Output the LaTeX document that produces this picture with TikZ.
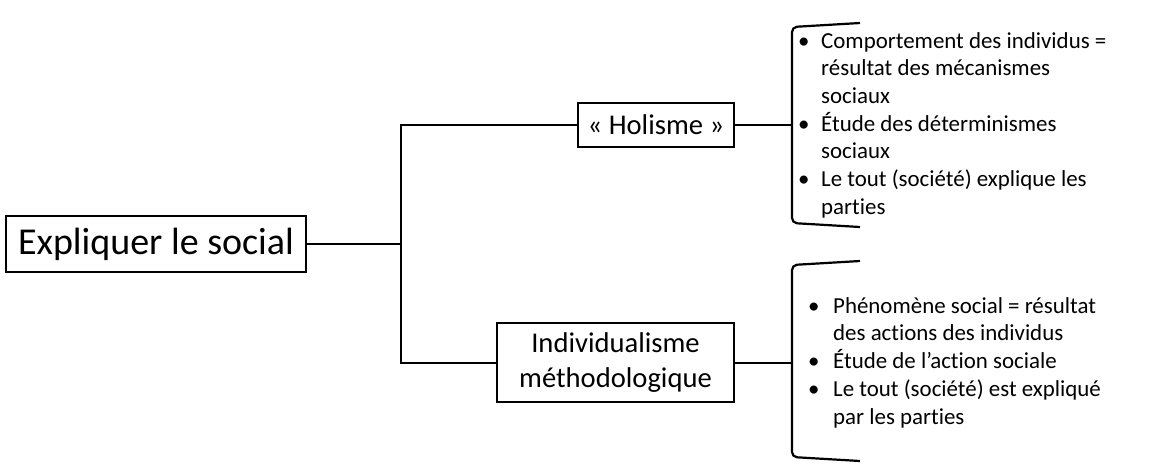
\documentclass[tikz,border=0pt]{standalone}
\usepackage{fontspec}
\setmainfont[Ligatures=NoCommon]{Carlito}
\newcommand{\itm}[1]{\makebox[23pt][l]{•}#1}
\newcommand{\cnt}[1]{\hspace*{23pt}#1}
\newcommand{\itmb}[1]{\makebox[25pt][l]{•}#1}
\newcommand{\cntb}[1]{\hspace*{25pt}#1}
\tikzset{
  box/.style={draw, line width=2pt, inner sep=0pt, align=center},
  ln/.style={line width=2pt},
  brk/.style={line width=2.2pt, rounded corners=5pt},
  lst/.style={anchor=west, inner sep=0pt, align=left, font=\fontsize{22.9}{27.7}\selectfont}
}
\begin{document}
\begin{tikzpicture}[x=1pt,y=-1pt]
\useasboundingbox (0,0) rectangle (1153,475);
\node[box, minimum width=300pt, minimum height=56pt, font=\fontsize{38}{46}\selectfont] (main) at (156,244) {Expliquer le social};
\node[box, minimum width=156pt, minimum height=44pt, font=\fontsize{28.6}{34}\selectfont] (hol) at (656,125) {« Holisme »};
\node[box, minimum width=237pt, minimum height=79pt, font=\fontsize{28.6}{34.3}\selectfont] (ind) at (615.5,362.5) {Individualisme\\méthodologique};
\coordinate (j) at (401,244);
\coordinate (jt) at (401,125);
\coordinate (jb) at (401,362.5);
\draw[ln] (main.east) -- (j);
\draw[ln] (hol.west) -- (jt) -- (jb) -- (ind.west);
% brackets
\coordinate (b1) at (792,125);
\coordinate (b2) at (792,362.5);
\draw[ln] (hol.east) -- (b1);
\draw[ln] (ind.east) -- (b2);
\draw[brk] (860,23) -- (792,27) -- (792,223) -- (860,227);
\draw[brk] (860,261) -- (792,265) -- (792,457) -- (860,461);
\node[lst] (l1) at (798,125) {\itm{Comportement des individus =}\\\cnt{résultat des mécanismes}\\\cnt{sociaux}\\\itm{Étude des déterminismes}\\\cnt{sociaux}\\\itm{Le tout (société) explique les}\\\cnt{parties}};
\node[lst] (l2) at (808,362.5) {\itmb{Phénomène social = résultat}\\\cntb{des actions des individus}\\\itmb{Étude de l’action sociale}\\\itmb{Le tout (société) est expliqué}\\\cntb{par les parties}};
\end{tikzpicture}
\end{document}
